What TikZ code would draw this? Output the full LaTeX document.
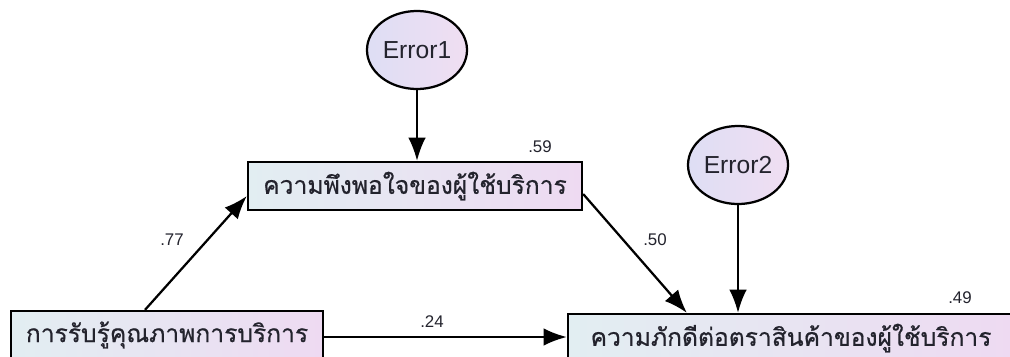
\documentclass[tikz,border=0pt]{standalone}
\usepackage{fontspec}
\setmainfont{Liberation Sans}
\newfontfamily\thaifont[Script=Thai,FakeBold=0.6]{Loma}
\usetikzlibrary{arrows.meta,shapes.geometric}

\definecolor{boxL}{RGB}{226,238,242}
\definecolor{boxR}{RGB}{238,218,242}
\definecolor{ellL}{RGB}{222,222,244}
\definecolor{ellR}{RGB}{240,222,242}
\definecolor{txt}{RGB}{35,35,45}

\tikzset{
  varbox/.style={draw=black, line width=1.6pt, left color=boxL, right color=boxR,
    minimum height=1.2cm, inner sep=0pt, text=txt,
    font=\thaifont\fontsize{17.5}{20}\selectfont},
  errnode/.style={ellipse, draw=black, line width=1.6pt, left color=ellL, right color=ellR,
    minimum width=2.5cm, minimum height=1.95cm, inner sep=0pt, text=txt,
    font=\fontsize{17.5}{20}\selectfont},
  coef/.style={text=txt, font=\fontsize{12}{14}\selectfont, inner sep=0pt},
  path/.style={line width=1.6pt, -{Latex[length=0.58cm,width=0.44cm]}}
}

\begin{document}
\begin{tikzpicture}[x=0.025cm,y=-0.025cm]
\useasboundingbox (0,0) rectangle (1010,356);
%\draw[help lines] (0,0) grid[step=2] (1010,356);

% observed variables
\node[varbox, minimum width=8.35cm] (satisf) at (415,186) {ความพึงพอใจของผู้ใช้บริการ};
\node[varbox, minimum width=7.78cm] (perceive) at (167,335) {การรับรู้คุณภาพการบริการ};
\node[varbox, minimum width=11.15cm] (loyalty) at (791,338) {ความภักดีต่อตราสินค้าของผู้ใช้บริการ};

% error terms
\node[errnode] (errA) at (417,50) {Error1};
\node[errnode] (errB) at (738,165) {Error2};

% paths
\draw[path] (errA) -- (errA |- satisf.north);
\draw[path] (errB) -- (errB |- loyalty.north);
\draw[path] ([xshift=-0.55cm]perceive.north) -- ([yshift=-0.25cm]satisf.west);
\draw[path] ([yshift=-0.2cm]satisf.east) -- ([xshift=3cm]loyalty.north west);
\draw[path] ([yshift=-0.05cm]perceive.east) -- ([yshift=-0.05cm]perceive.east -| loyalty.west);

% coefficients
\node[coef] (c59) at (540,147) {.59};
\node[coef] (c49) at (960,298) {.49};
\node[coef] (c77) at (172,240) {.77};
\node[coef] (c50) at (655,240) {.50};
\node[coef] (c24) at (432,322) {.24};
\end{tikzpicture}
\end{document}
